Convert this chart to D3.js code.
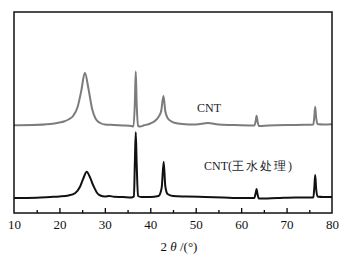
<!DOCTYPE html>
<html>
<head>
<meta charset="utf-8">
<script src="https://cdn.jsdelivr.net/npm/d3@7"></script>
<style>
  body { margin: 0; background: #fff; }
  svg { display: block; }
  text { font-family: "Liberation Serif", "Times New Roman", serif; }
</style>
</head>
<body>
<svg id="chart" width="351" height="256"></svg>
<script>
// 2theta (deg) and intensity (a.u., offset already included)
var cntX = [10, 14, 18, 20, 21, 22, 23, 24, 24.8, 25.6, 26.4, 27.2, 28, 29, 30, 32, 34, 35.8, 36.3,
            36.6, 36.8, 37.0, 37.3, 37.8, 38.5, 40, 41, 41.8, 42.4, 42.9, 43.3, 43.8, 44.5, 45.5,
            47, 50, 52.7, 55, 58, 62.9, 63.2, 63.4, 63.6, 63.9, 66, 70, 74, 75.9, 76.1, 76.3, 76.5,
            76.8, 78, 80];
var cntY = [87.8, 88, 89, 90.5, 91.5, 93.5, 97, 106, 122, 140.3, 124, 104, 94, 90, 88.5, 88, 87.5, 87, 86.5,
            110, 141.5, 110, 87, 86.5, 87.5, 89.5, 92, 96, 102, 117, 102, 95, 92, 90,
            89, 88.5, 90, 88.5, 88, 87.5, 92, 97.3, 92, 87, 87.5, 88, 88.2, 88.5, 96, 106.3, 96,
            89, 88.5, 88.7];

var aqX = [10, 15, 18, 20, 22, 23.5, 24.5, 25.3, 26.0, 26.7, 27.5, 28.3, 29, 30, 31, 32, 34, 35.8, 36.4,
           36.6, 36.8, 37.0, 37.3, 38, 40, 41.8, 42.5, 42.95, 43.3, 43.8, 45, 48, 52, 56, 60,
           62.9, 63.2, 63.4, 63.6, 63.9, 68, 72, 75.9, 76.1, 76.3, 76.5, 76.8, 78, 80];
var aqY = [15, 15.3, 16, 16.5, 17.5, 20, 26, 35, 41.3, 36, 27, 20, 17.5, 16.5, 17, 16.3, 16, 15.5, 16.5,
           50, 80.7, 50, 17, 16, 16, 17, 25, 51.3, 27, 19, 17, 16.5, 16, 15.5, 15,
           15, 20, 24, 19, 14.5, 15, 15.5, 15.5, 25, 38, 25, 16.5, 16, 16];

var xTicks = [10, 20, 30, 40, 50, 60, 70, 80];
var majorTicks = [20, 30, 40, 50, 60, 70];
var minorTicks = [15, 25, 35, 45, 55, 65, 75];

function drawChart() {
    var svg = d3.select('#chart');
    var pLeft = 14, pRight = 332, pTop = 12, pBottom = 213;

    var x = d3.scaleLinear().domain([10, 80]).range([pLeft, pRight]);
    var y = d3.scaleLinear().domain([0, 201]).range([pBottom, pTop]);

    var line = d3.line().x(d => x(d[0])).y(d => y(d[1])).curve(d3.curveMonotoneX);

    svg.append('path').datum(d3.zip(cntX, cntY))
       .attr('d', line).attr('fill', 'none')
       .attr('stroke', '#7c7c7c').attr('stroke-width', 2).attr('stroke-linejoin', 'round');

    svg.append('path').datum(d3.zip(aqX, aqY))
       .attr('d', line).attr('fill', 'none')
       .attr('stroke', '#111').attr('stroke-width', 2).attr('stroke-linejoin', 'round');

    // Inner ticks:
    svg.append('g').attr('transform', 'translate(0,' + pBottom + ')')
       .call(d3.axisBottom(x).tickValues(majorTicks).tickSize(-5).tickFormat(''))
       .call(g => g.select('.domain').remove())
       .selectAll('line').attr('stroke-width', 1.3);
    svg.append('g').attr('transform', 'translate(0,' + pBottom + ')')
       .call(d3.axisBottom(x).tickValues(minorTicks).tickSize(-3).tickFormat(''))
       .call(g => g.select('.domain').remove())
       .selectAll('line').attr('stroke-width', 1.3);

    // Labels:
    var labels = svg.append('g').attr('transform', 'translate(0,' + pBottom + ')')
       .call(d3.axisBottom(x).tickValues(xTicks).tickSize(0).tickPadding(7));
    labels.select('.domain').remove();
    labels.selectAll('text').attr('font-family', '"Liberation Serif", serif')
          .attr('font-size', 13).attr('fill', '#111');

    // Frame:
    svg.append('rect').attr('x', pLeft).attr('y', pTop)
       .attr('width', pRight - pLeft).attr('height', pBottom - pTop)
       .attr('fill', 'none').attr('stroke', '#111').attr('stroke-width', 1.5);

    // Axis title:
    var title = svg.append('text').attr('x', 179).attr('y', 251)
       .attr('text-anchor', 'middle').attr('font-size', 13).attr('fill', '#111');
    title.append('tspan').text('2 ');
    title.append('tspan').attr('font-style', 'italic').text('θ');
    title.append('tspan').text(' /(°)');

    // Series labels:
    svg.append('text').attr('x', 197).attr('y', 112)
       .attr('font-size', 12).attr('fill', '#1a1a2a').text('CNT');
    var lab2 = svg.append('text').attr('x', 204).attr('y', 170)
       .attr('font-size', 12).attr('fill', '#1a1a2a');
    lab2.append('tspan').text('CNT(');
    lab2.append('tspan').attr('letter-spacing', 2).text('王水处理');
    lab2.append('tspan').text(')');
}

drawChart();
</script>
</body>
</html>
